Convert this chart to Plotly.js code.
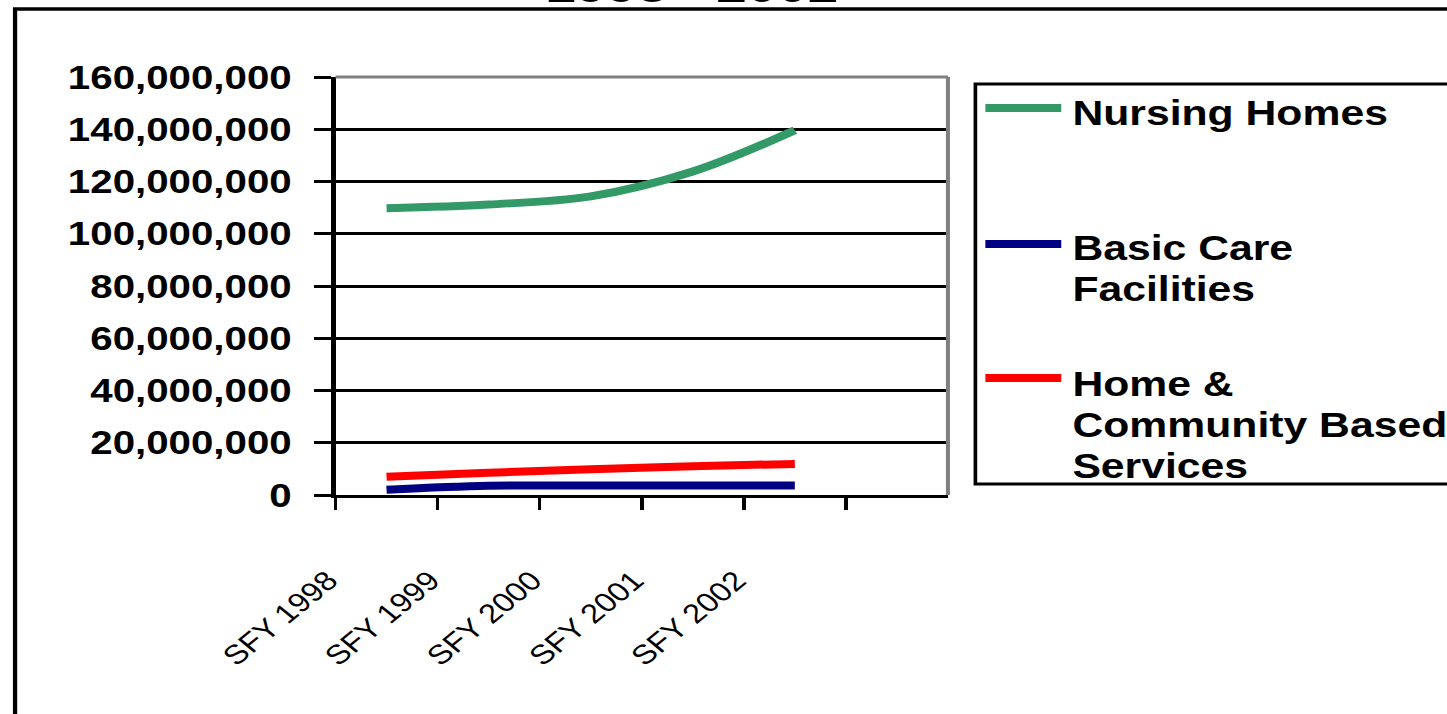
<!DOCTYPE html>
<html>
<head>
<meta charset="utf-8">
<script src="https://cdn.plot.ly/plotly-3.0.1.min.js"></script>
<style>
  html, body { margin: 0; padding: 0; background: #ffffff; overflow: hidden; }
  #wrap { width: 1447px; height: 714px; overflow: hidden; }
  #chart { transform-origin: 0 0; }
</style>
</head>
<body>
<div id="wrap"><div id="chart"></div></div>
<script>
// ---- data ----
const categories = ["SFY 1998", "SFY 1999", "SFY 2000", "SFY 2001", "SFY 2002"];
const nursingHomes = [109.8e6, 111.2e6, 114.3e6, 123.8e6, 139.6e6];
const basicCare = [2.0e6, 3.5e6, 3.6e6, 3.6e6, 3.6e6];
const homeCommunity = [7.0e6, 8.5e6, 9.9e6, 11.0e6, 11.9e6];
const seriesNames = ["Nursing Homes", "Basic Care<br>Facilities", "Home &<br>Community Based<br>Services"];
const seriesColors = ["#339966", "#000080", "#ff0000"];
const titleText = "1998 - 2002";

// ---- geometry (image pixels, page is stretched horizontally) ----
const S = 1.22;                    // horizontal stretch of the original image
const W = Math.round(1447 / S), H = 714;
const L = 335, R = 948.5, T = 77, B = 495;
const ml = L / S, mr = W - R / S, mt = T, mb = H - B;
const pw = W - ml - mr;
function px(ix) { return (ix / S - ml) / pw; }
function py(iy) { return (B - iy) / (B - T); }

document.getElementById('chart').style.transform = 'scaleX(' + S + ')';

const FONT = '"Liberation Sans", Arial, sans-serif';
const seriesData = [nursingHomes, basicCare, homeCommunity];

const traces = seriesData.map((vals, i) => ({
  type: 'scatter',
  mode: 'lines',
  x: categories,
  y: vals,
  name: seriesNames[i].replace(/<br>/g, ' '),
  line: { color: seriesColors[i], width: 8, shape: 'spline', smoothing: 1 },
  showlegend: false,
  hoverinfo: 'skip'
}));

const shapes = [
  // outer frame (extends past the visible page on right/bottom)
  { type: 'rect', xref: 'paper', yref: 'paper', x0: px(14), x1: px(1475), y0: py(9), y1: py(740),
    line: { color: '#000000', width: 3.5 }, fillcolor: 'rgba(0,0,0,0)', layer: 'above' },
  // plot area border top/right in gray
  { type: 'line', xref: 'paper', yref: 'paper', x0: 0, x1: 1, y0: 1, y1: 1,
    line: { color: '#808080', width: 3 }, layer: 'above' },
  { type: 'line', xref: 'paper', yref: 'paper', x0: 1, x1: 1, y0: 0, y1: 1,
    line: { color: '#808080', width: 3.3 }, layer: 'above' },
  // legend box
  { type: 'rect', xref: 'paper', yref: 'paper', x0: px(976), x1: px(1475), y0: py(84), y1: py(484),
    line: { color: '#000000', width: 3 }, fillcolor: 'rgba(0,0,0,0)', layer: 'above' }
];

const annotations = [
  { text: '<b>' + titleText + '</b>', xref: 'paper', yref: 'paper', x: px(691.5), y: 1,
    xanchor: 'center', yanchor: 'bottom', yshift: T - 14.5, showarrow: false,
    font: { family: FONT, size: 45, color: '#000000' } }
];

const legendSymbolY = [108, 244, 378];
const legendTextY = [112.5, 247.5, 383.5];
const legendLineStep = 41;
seriesNames.forEach((name, i) => {
  shapes.push({ type: 'line', xref: 'paper', yref: 'paper', x0: px(986), x1: px(1062),
    y0: py(legendSymbolY[i]), y1: py(legendSymbolY[i]),
    line: { color: seriesColors[i], width: 8 }, layer: 'above' });
  name.split('<br>').forEach((ln, j) => {
    annotations.push({ text: '<b>' + ln + '</b>', xref: 'paper', yref: 'paper',
      x: px(1071), y: py(legendTextY[i] + legendLineStep * j), xanchor: 'left', yanchor: 'middle',
      showarrow: false, font: { family: FONT, size: 35, color: '#000000' } });
  });
});

const layout = {
  width: W, height: H,
  margin: { l: ml, r: mr, t: mt, b: mb, pad: 0 },
  paper_bgcolor: '#ffffff', plot_bgcolor: '#ffffff',
  showlegend: false,
  font: { family: FONT, color: '#000000' },
  xaxis: {
    type: 'category', range: [-0.5, 5.5], tickson: 'boundaries',
    showgrid: false, zeroline: false,
    showline: true, linecolor: '#000000', linewidth: 3,
    ticks: 'outside', ticklen: 12, tickwidth: 3, tickcolor: '#000000',
    tickangle: -45, ticklabelshift: -48, ticklabelstandoff: 56,
    tickfont: { family: FONT, size: 27, color: '#000000' },
    fixedrange: true
  },
  yaxis: {
    range: [0, 160e6], dtick: 20e6, tick0: 0, tickformat: ',d',
    showgrid: true, gridcolor: '#000000', gridwidth: 3, zeroline: false,
    showline: true, linecolor: '#000000', linewidth: 3.3,
    ticks: 'outside', ticklen: 14, tickwidth: 3, tickcolor: '#000000',
    ticklabelstandoff: 12,
    tickfont: { family: FONT, size: 33, color: '#000000', weight: 'bold' },
    fixedrange: true
  },
  shapes: shapes,
  annotations: annotations
};

Plotly.newPlot('chart', traces, layout, { displayModeBar: false, staticPlot: true });
</script>
</body>
</html>
